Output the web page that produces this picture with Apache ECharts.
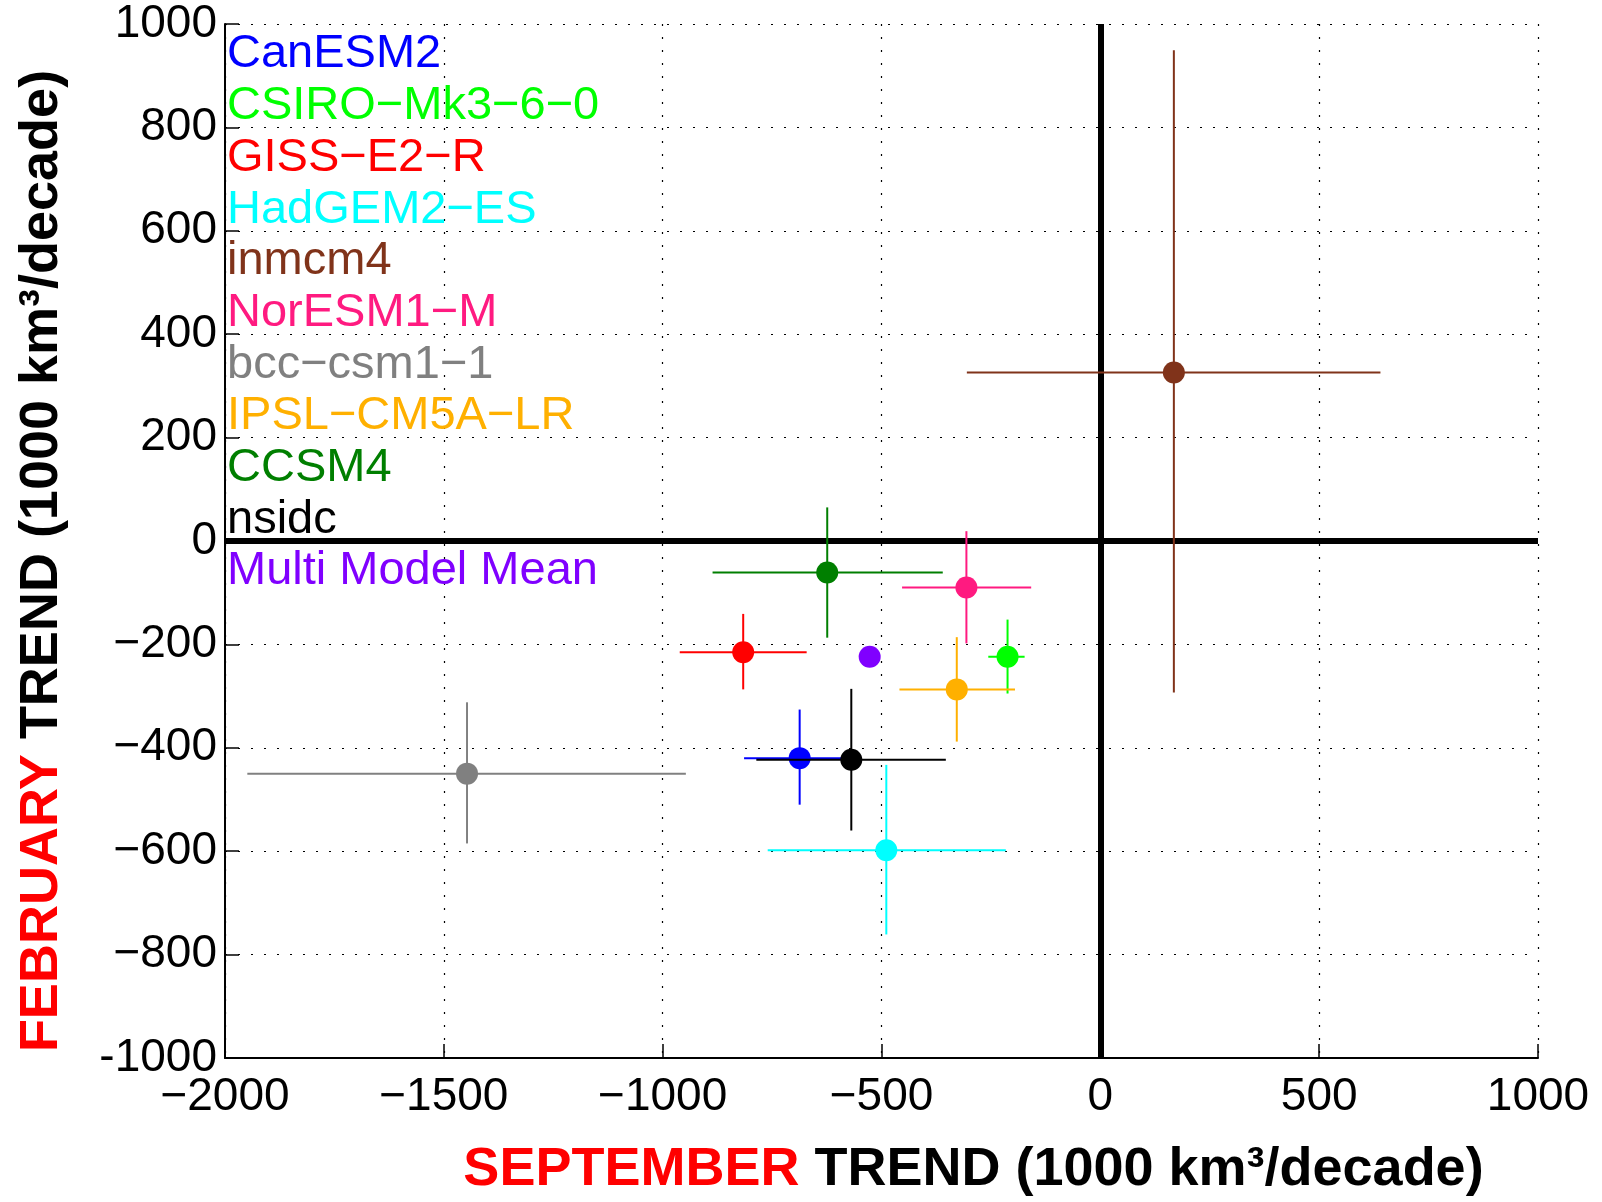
<!DOCTYPE html>
<html>
<head>
<meta charset="utf-8">
<script src="https://cdn.jsdelivr.net/npm/echarts@6/dist/echarts.min.js"></script>
<style>
html,body{margin:0;padding:0;background:#fff;}
#chart{width:1602px;height:1202px;}
</style>
</head>
<body>
<div id="chart"></div>
<script>
// ---- data ----
var models = ['CanESM2','CSIRO\u2212Mk3\u22126\u22120','GISS\u2212E2\u2212R','HadGEM2\u2212ES','inmcm4','NorESM1\u2212M','bcc\u2212csm1\u22121','IPSL\u2212CM5A\u2212LR','CCSM4','nsidc','Multi Model Mean'];
var septTrend = [-687, -212, -816, -489, 168, -306, -1447, -328, -624, -569, -527];
var febTrend  = [-420, -224, -215, -598, 326, -90, -450, -287, -61, -423, -224];
var septLow   = [-814, -256, -961, -760, -305, -453, -1949, -459, -886, -786, null];
var septHigh  = [-560, -173, -671, -216, 640, -158, -947, -195, -360, -353, null];
var febLow    = [-510, -295, -287, -761, -293, -198, -585, -388, -187, -560, null];
var febHigh   = [-326, -152, -141, -433, 949, 19, -312, -186, 65, -286, null];
var xTicks = [-2000, -1500, -1000, -500, 0, 500, 1000];
var yTicks = [-1000, -800, -600, -400, -200, 0, 200, 400, 600, 800, 1000];
// ---- styles ----
var colors = ['#0000ff','#00ff00','#ff0000','#00ffff','#80331a','#ff1a80','#808080','#ffb000','#007f00','#000000','#8000ff'];

var chart = echarts.init(document.getElementById('chart'), null, {renderer:'canvas'});

function fmtX(v){ return v < 0 ? '\u2212' + Math.abs(v) : String(v); }
function fmtY(v){ if (v === yTicks[0]) return '-' + Math.abs(v); return v < 0 ? '\u2212' + Math.abs(v) : String(v); }

function renderItem(params, api){
  var x = api.value(0), y = api.value(1);
  var c = api.coord([x, y]);
  var col = api.visual('color');
  var kids = [];
  var xl = api.value(2), xh = api.value(3), yl = api.value(4), yh = api.value(5);
  if (!isNaN(xl) && !isNaN(xh)) {
    var a = api.coord([xl, y]), b = api.coord([xh, y]);
    kids.push({type:'line', shape:{x1:a[0],y1:a[1],x2:b[0],y2:b[1]}, style:{stroke:col, lineWidth:2}});
  }
  if (!isNaN(yl) && !isNaN(yh)) {
    var d = api.coord([x, yl]), e = api.coord([x, yh]);
    kids.push({type:'line', shape:{x1:d[0],y1:d[1],x2:e[0],y2:e[1]}, style:{stroke:col, lineWidth:2}});
  }
  kids.push({type:'circle', shape:{cx:c[0], cy:c[1], r:11}, style:{fill:col}});
  return {type:'group', children:kids};
}

var series = [{
  type:'line', data:[], silent:true, z:1,
  markLine:{silent:true, symbol:['none','none'], label:{show:false},
    lineStyle:{color:'#000', width:6, type:'solid'},
    data:[{xAxis:0},{yAxis:0}]}
}];
models.forEach(function(m, i){
  series.push({
    name:m, type:'custom', renderItem:renderItem, z:2+i,
    itemStyle:{color:colors[i]},
    encode:{x:[0,2,3], y:[1,4,5]},
    data:[[septTrend[i], febTrend[i],
           septLow[i]==null?NaN:septLow[i], septHigh[i]==null?NaN:septHigh[i],
           febLow[i]==null?NaN:febLow[i], febHigh[i]==null?NaN:febHigh[i]]]
  });
});

var gridLine = {show:true, lineStyle:{color:'#000', width:1.2, type:[2,11]}};
var labelFont = {fontFamily:'Liberation Sans, Arial, sans-serif', fontSize:46, color:'#000'};
var titleRich = {
  r:{color:'#ff0000', fontFamily:'Liberation Sans, Arial, sans-serif', fontWeight:'bold', fontSize:54},
  b:{color:'#000', fontFamily:'Liberation Sans, Arial, sans-serif', fontWeight:'bold', fontSize:54}
};

chart.setOption({
  backgroundColor:'#fff',
  animation:false,
  grid:{left:225, right:64, top:24, bottom:141},
  legend:{
    orient:'vertical', left:222, top:31, padding:0,
    itemWidth:0, itemHeight:0, itemGap:4.7, selectedMode:false,
    textStyle:{fontFamily:'Liberation Sans, Arial, sans-serif', fontSize:47, lineHeight:47},
    data: models.map(function(m,i){ return {name:m, icon:'none', textStyle:{color:colors[i]}}; })
  },
  xAxis:{
    type:'value', min:xTicks[0], max:xTicks[xTicks.length-1], interval:500,
    axisLine:{show:true, onZero:false, lineStyle:{color:'#000', width:2}},
    axisTick:{show:true, inside:true, length:14, lineStyle:{color:'#000', width:1.5}},
    axisLabel:Object.assign({margin:16, formatter:fmtX}, labelFont),
    splitLine:gridLine,
    name:'{r|SEPTEMBER }{b|TREND (1000 km\u00b3/decade)}',
    nameLocation:'middle', nameGap:85,
    nameTextStyle:{padding:[0,0,0,184], rich:titleRich}
  },
  yAxis:{
    type:'value', min:yTicks[0], max:yTicks[yTicks.length-1], interval:200,
    axisLine:{show:true, onZero:false, lineStyle:{color:'#000', width:2}},
    axisTick:{show:true, inside:true, length:14, lineStyle:{color:'#000', width:1.5}},
    axisLabel:Object.assign({margin:8, formatter:fmtY}, labelFont),
    splitLine:gridLine,
    name:'{r|FEBRUARY }{b|TREND (1000 km\u00b3/decade)}',
    nameLocation:'middle', nameGap:156, nameRotate:90,
    nameTextStyle:{padding:[0,40,0,0], rich:titleRich}
  },
  series:series
});
</script>
</body>
</html>
